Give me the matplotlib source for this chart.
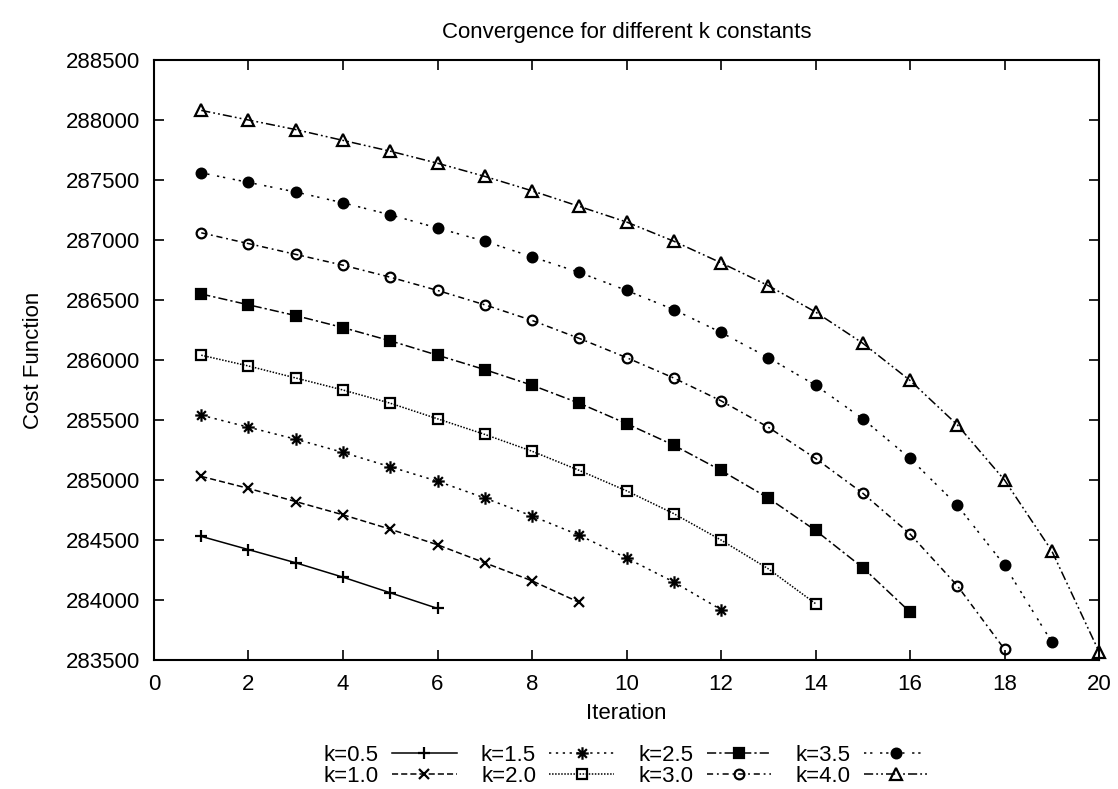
import matplotlib
matplotlib.use("Agg")
import matplotlib.pyplot as plt
from matplotlib.path import Path

plt.rcParams["font.family"] = ["Liberation Sans", "DejaVu Sans"]

# --- data ---
labels = ["k=0.5", "k=1.0", "k=1.5", "k=2.0", "k=2.5", "k=3.0", "k=3.5", "k=4.0"]

cost_k05 = [284530, 284420, 284310, 284190, 284060, 283930]
cost_k10 = [285030, 284930, 284820, 284710, 284590, 284460, 284310, 284160, 283980]
cost_k15 = [285540, 285440, 285340, 285230, 285110, 284990, 284850, 284700, 284540,
            284350, 284150, 283920]
cost_k20 = [286040, 285950, 285850, 285750, 285640, 285510, 285380, 285240, 285080,
            284910, 284720, 284500, 284260, 283970]
cost_k25 = [286550, 286460, 286370, 286270, 286160, 286040, 285920, 285790, 285640,
            285470, 285290, 285080, 284850, 284580, 284270, 283900]
cost_k30 = [287060, 286970, 286880, 286790, 286690, 286580, 286460, 286330, 286180,
            286020, 285850, 285660, 285440, 285180, 284890, 284550, 284120, 283590]
cost_k35 = [287560, 287480, 287400, 287310, 287210, 287100, 286990, 286860, 286730,
            286580, 286420, 286230, 286020, 285790, 285510, 285180, 284790, 284290,
            283650]
cost_k40 = [288080, 288000, 287920, 287830, 287740, 287640, 287530, 287410, 287280,
            287150, 286990, 286810, 286620, 286400, 286140, 285830, 285460, 285000,
            284410, 283570]

series = [cost_k05, cost_k10, cost_k15, cost_k20, cost_k25, cost_k30, cost_k35, cost_k40]

# gnuplot-like asterisk: plus and cross on top of each other
star = Path([(-1, 0), (1, 0), (0, -1), (0, 1), (-0.7, -0.7), (0.7, 0.7), (-0.7, 0.7), (0.7, -0.7)],
            [Path.MOVETO, Path.LINETO] * 4)

styles = [
    dict(marker="+", ls="-", fill=False, ms=9),
    dict(marker="x", ls=(0, (4, 2)), fill=False, ms=7),
    dict(marker=star, ls=(0, (1.5, 3)), fill=False, ms=9),
    dict(marker="s", ls=(0, (1, 1)), fill=False, ms=7),
    dict(marker="s", ls=(0, (6, 2, 1.5, 2)), fill=True, ms=7.5),
    dict(marker="o", ls=(0, (4, 2.5, 1.2, 2.5)), fill=False, ms=7),
    dict(marker="o", ls=(0, (1.5, 2.5, 1.5, 5)), fill=True, ms=7),
    dict(marker="^", ls=(0, (6, 2, 1.2, 2, 1.2, 2)), fill=False, ms=8),
]

fig = plt.figure(figsize=(11.18, 7.89), dpi=100)
ax = fig.add_axes([154 / 1118, 1 - 660 / 789, 945 / 1118, 600 / 789])

for vals, lab, st in zip(series, labels, styles):
    it = list(range(1, len(vals) + 1))
    ax.plot(it, vals, color="black", lw=1.1, ls=st["ls"], marker=st["marker"],
            ms=st["ms"], mew=1.6, mfc="black" if st["fill"] else "none", mec="black",
            label=lab, clip_on=False)

ax.set_xlim(0, 20)
ax.set_ylim(283500, 288500)
ax.set_xticks(range(0, 21, 2))
ax.set_yticks(range(283500, 288501, 500))
ax.tick_params(direction="in", length=7, width=1.2, top=True, right=True,
               labelsize=16, pad=10)
for sp in ax.spines.values():
    sp.set_linewidth(1.5)

ax.set_title("Convergence for different k constants", fontsize=16, pad=16)
ax.set_xlabel("Iteration", fontsize=16, labelpad=6)
ax.set_ylabel("Cost Function", fontsize=16, labelpad=16)

fig.legend(loc="center", bbox_to_anchor=(626 / 1118, 1 - 766 / 789), ncol=4,
           frameon=False, markerfirst=False, fontsize=16, handlelength=2.9,
           handletextpad=0.6, columnspacing=1.1, labelspacing=0.0, borderpad=0)

fig.savefig("out.png", dpi=100, facecolor="white")
plt.close(fig)
